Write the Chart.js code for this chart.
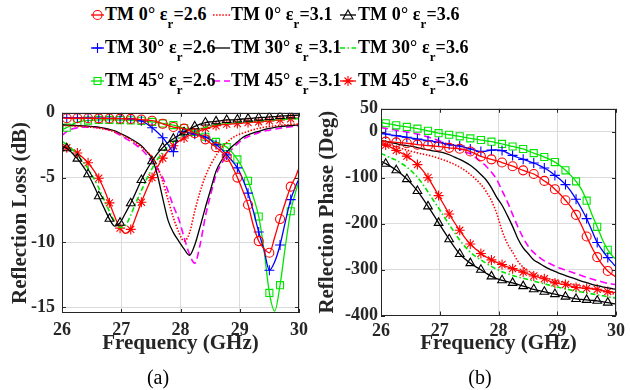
<!DOCTYPE html>
<html>
<head>
<meta charset="utf-8">
<script src="https://cdn.jsdelivr.net/npm/chart.js@4.4.0/dist/chart.umd.min.js"></script>
<style>
  html, body { margin: 0; padding: 0; background: #fff; }
  #wrap { position: relative; width: 630px; height: 390px; overflow: hidden; font-family: 'Liberation Serif', 'Times New Roman', serif; }
  canvas { position: absolute; }
  #lossChart { left: 0; top: 95px; }
  #phaseChart { left: 315px; top: 95px; }
  #legendMarks { position: absolute; left: 0; top: 0; }
  .lg { position: absolute; font-size: 18px; font-weight: bold; line-height: 22px; letter-spacing: 0.1px; white-space: nowrap; color: #000; }
  .lg sub { font-size: 13px; vertical-align: baseline; position: relative; top: 8px; }
  .cap { position: absolute; width: 60px; text-align: center; font-size: 20px; line-height: 24px; color: #000; }
</style>
</head>
<body>
<div id="wrap">
  <svg id="legendMarks" width="630" height="95"></svg>
  <canvas id="lossChart" width="315" height="295"></canvas>
  <canvas id="phaseChart" width="315" height="295"></canvas>
  <div class="cap" style="left:128px; top:365px">(a)</div>
  <div class="cap" style="left:450px; top:365px">(b)</div>
</div>
<script>
'use strict'

// frequency samples (GHz)
const freq = [26.00, 26.08, 26.17, 26.26, 26.35, 26.44, 26.53, 26.62, 26.71, 26.80, 26.89, 26.98, 27.07, 27.16, 27.25, 27.34, 27.43, 27.52, 27.61, 27.70, 27.79, 27.88, 27.97, 28.06, 28.15, 28.24, 28.33, 28.42, 28.51, 28.60, 28.69, 28.78, 28.87, 28.96, 29.05, 29.14, 29.23, 29.32, 29.41, 29.50, 29.59, 29.68, 29.77, 29.86, 29.95, 30.00];
const freqTicks = [26, 27, 28, 29, 30];
const lossTicks = [-15, -10, -5, 0];
const phaseTicks = [-400, -300, -200, -100, 0, 50];

const angles = ['0', '30', '45'];
const permittivity = ['2.6', '3.1', '3.6'];

// reflection loss (dB)
const loss0_26 = [-0.40, -0.42, -0.42, -0.42, -0.42, -0.42, -0.42, -0.43, -0.43, -0.44, -0.44, -0.45, -0.46, -0.47, -0.49, -0.52, -0.56, -0.61, -0.70, -0.85, -0.98, -1.10, -1.16, -1.22, -1.38, -1.58, -1.80, -2.05, -2.35, -2.65, -3.00, -3.40, -4.10, -5.00, -6.00, -7.10, -8.70, -9.90, -10.50, -10.80, -9.60, -8.20, -6.90, -5.70, -4.85, -4.25];
const loss0_31 = [-1.00, -1.00, -1.02, -1.04, -1.06, -1.09, -1.13, -1.18, -1.25, -1.35, -1.48, -1.65, -1.85, -2.08, -2.35, -2.65, -3.00, -3.40, -4.20, -5.30, -6.70, -8.10, -9.20, -9.90, -9.30, -7.60, -6.10, -4.90, -4.00, -3.30, -2.72, -2.30, -1.95, -1.72, -1.57, -1.44, -1.30, -1.20, -1.12, -1.06, -1.01, -0.97, -0.93, -0.90, -0.88, -0.87];
const loss0_36 = [-2.60, -2.74, -3.10, -3.54, -4.10, -4.74, -5.55, -6.44, -7.35, -8.18, -8.75, -8.48, -7.75, -6.98, -6.10, -5.19, -4.40, -3.74, -3.15, -2.69, -2.30, -2.00, -1.75, -1.50, -1.25, -1.05, -0.88, -0.75, -0.70, -0.66, -0.60, -0.55, -0.54, -0.52, -0.48, -0.45, -0.41, -0.37, -0.35, -0.32, -0.29, -0.25, -0.23, -0.20, -0.19, -0.18];
const loss30_26 = [-0.35, -0.38, -0.40, -0.40, -0.40, -0.41, -0.41, -0.42, -0.42, -0.43, -0.43, -0.44, -0.45, -0.47, -0.52, -0.62, -0.85, -1.15, -1.50, -1.92, -2.45, -3.00, -1.45, -1.50, -1.55, -1.65, -1.75, -1.88, -2.10, -2.45, -2.80, -3.25, -3.70, -4.25, -5.10, -6.20, -7.60, -9.20, -10.60, -12.15, -11.50, -10.20, -8.40, -6.70, -5.60, -5.10];
const loss30_31 = [-0.94, -0.95, -0.97, -0.99, -1.01, -1.03, -1.06, -1.10, -1.18, -1.28, -1.40, -1.58, -1.78, -2.00, -2.25, -2.55, -3.00, -3.55, -4.80, -6.60, -8.30, -9.25, -9.90, -10.50, -11.00, -10.20, -8.80, -7.30, -5.90, -4.50, -3.70, -3.05, -2.60, -2.25, -1.90, -1.70, -1.55, -1.43, -1.30, -1.20, -1.13, -1.07, -1.02, -0.98, -0.95, -0.94];
const loss30_36 = [-2.20, -2.45, -2.80, -3.25, -3.75, -4.30, -5.00, -5.80, -6.70, -7.60, -8.40, -8.85, -8.70, -7.90, -6.90, -6.00, -5.10, -4.30, -3.60, -3.05, -2.60, -2.25, -1.95, -1.72, -1.55, -1.40, -1.25, -1.12, -1.00, -0.90, -0.84, -0.80, -0.77, -0.74, -0.71, -0.68, -0.65, -0.62, -0.60, -0.57, -0.54, -0.52, -0.50, -0.48, -0.46, -0.45];
const loss45_26 = [-1.30, -1.15, -0.90, -0.72, -0.64, -0.60, -0.57, -0.55, -0.55, -0.55, -0.55, -0.56, -0.57, -0.58, -0.60, -0.62, -0.66, -0.70, -0.76, -0.82, -0.88, -0.95, -1.06, -1.18, -1.32, -1.48, -1.65, -1.85, -2.05, -2.25, -2.45, -2.65, -3.05, -3.60, -4.30, -5.25, -6.50, -8.00, -10.60, -13.90, -15.30, -13.30, -10.30, -7.60, -6.00, -5.30];
const loss45_31 = [-1.75, -1.45, -1.25, -1.16, -1.12, -1.11, -1.12, -1.16, -1.23, -1.33, -1.50, -1.72, -1.97, -2.22, -2.50, -2.82, -3.25, -3.75, -4.30, -5.00, -6.05, -7.20, -8.20, -9.60, -10.90, -11.60, -10.20, -8.00, -6.30, -4.80, -3.95, -3.30, -2.80, -2.40, -2.05, -1.85, -1.68, -1.53, -1.42, -1.34, -1.26, -1.19, -1.13, -1.08, -1.03, -1.00];
const loss45_36 = [-2.55, -2.70, -2.85, -3.10, -3.45, -3.86, -4.40, -5.05, -5.90, -6.95, -8.00, -8.90, -9.30, -9.00, -8.00, -6.90, -5.90, -5.00, -4.20, -3.50, -2.95, -2.54, -2.20, -1.95, -1.75, -1.58, -1.38, -1.20, -1.10, -1.00, -0.93, -0.87, -0.85, -0.83, -0.79, -0.75, -0.72, -0.70, -0.66, -0.62, -0.58, -0.55, -0.50, -0.46, -0.42, -0.40];

// reflection phase (deg)
const phase0_26 = [-19, -21.5, -22.2, -23, -24, -25, -26.5, -28, -29, -30, -31, -32, -33.5, -35, -36, -37, -39.5, -43, -48, -53.6, -57, -60, -63.5, -67, -71, -75, -79.5, -84, -88, -92, -99, -107, -115, -125, -136, -149, -163, -181, -203, -228, -252, -273, -290, -303, -312, -316];
const phase0_31 = [-23, -26, -29.5, -33, -36.5, -40, -43, -46, -48.5, -51, -54, -57.5, -61.5, -66, -71, -77, -84, -93, -103, -115, -130, -150, -178, -215, -243, -262, -282, -295, -303, -309, -313, -317, -320.5, -323.5, -326, -328.5, -331, -333, -336, -339, -341, -344, -347, -350, -352.5, -354];
const phase0_36 = [-64, -69.5, -76, -83.7, -92.5, -103, -115, -128.8, -145, -162.4, -180, -198.3, -216.5, -234, -251, -266, -277, -286, -293.5, -300.4, -308, -314.8, -319.5, -323.4, -326, -329, -332.5, -336, -339.5, -343, -346, -348.4, -351, -353.4, -356, -359, -361.5, -364, -365, -366, -367, -368, -370, -372, -374, -375];
const phase30_26 = [-2, -5, -7, -8.6, -10.3, -12, -14, -16, -17.7, -19.4, -21, -23, -25.5, -28, -29.5, -31, -34, -37.5, -40.5, -43, -42, -40, -39.5, -41, -46, -51.5, -56, -60, -64, -68, -73, -79, -86, -95, -104, -115, -129, -147, -167, -189, -215, -241, -259, -274, -287, -294];
const phase30_31 = [-19, -21, -23.5, -26, -28.5, -30, -32, -34.5, -37, -39.5, -41.5, -43.5, -46, -50, -55, -60, -66, -73, -82, -93, -105, -122, -143, -160, -182, -206, -233, -253, -266, -279, -286, -293, -299, -304, -309, -313, -317, -321, -325, -328.5, -332, -335, -337.5, -340, -342, -343];
const phase30_36 = [-47, -52, -57, -62, -69, -77, -87, -99, -114, -131, -149, -166, -184, -202, -219, -236, -250, -262, -271.5, -279, -286.5, -293, -299.5, -305, -309, -313, -316, -319, -322, -325, -328, -331, -334, -337, -339.5, -342, -344.5, -347, -349, -351, -353, -355, -357, -359, -361, -362];
const phase45_26 = [21, 18.5, 16.5, 14, 12.3, 10.5, 8.7, 6.8, 4.5, 2, -0.5, -3, -4.8, -6.5, -8.3, -10, -12.2, -14.4, -16.2, -18, -19.7, -21.5, -24, -26.5, -29, -32, -34.5, -37.5, -42, -46.5, -50.5, -55, -60, -66, -74, -84, -95, -108, -125, -150, -180, -207, -235, -257, -272, -278];
const phase45_31 = [9, 7.5, 5.5, 3.5, 1.5, -0.5, -2.5, -5, -8, -11.5, -15, -19, -23.5, -28, -33, -38, -44, -48, -56, -65, -75, -88, -104, -128, -152, -180, -207, -231, -250, -263, -273, -281, -287, -292, -297, -301, -305, -309, -313, -317, -320.5, -324, -327, -330, -332, -333];
const phase45_36 = [-25, -29, -34, -40.5, -46.5, -53, -61.5, -71.5, -84, -100, -119, -139, -159, -179, -197.5, -214.5, -231, -244.5, -255, -265, -272.5, -279, -284.5, -289, -294, -298, -302, -305.5, -310, -314, -317, -320, -325, -329, -331, -332.5, -336, -339, -340, -341, -342, -343, -345.5, -348, -349.5, -350];

const lossSeries = [
	[loss0_26, loss0_31, loss0_36],
	[loss30_26, loss30_31, loss30_36],
	[loss45_26, loss45_31, loss45_36],
];
const phaseSeries = [
	[phase0_26, phase0_31, phase0_36],
	[phase30_26, phase30_31, phase30_36],
	[phase45_26, phase45_31, phase45_36],
];

const ink = '#262626';
const gridColor = '#dcdcdc';
const green = '#00e600';
const serif = "'Liberation Serif', 'Times New Roman', serif";

// line style per [angle][permittivity]
const styles = [
	[
		{color: '#ff0000', marker: 'circle', size: 4.5},
		{color: '#ff0000', dash: [1.5, 1.6]},
		{color: '#000000', marker: 'triangle', size: 5},
	],
	[
		{color: '#0000ff', marker: 'cross', size: 5},
		{color: '#000000'},
		{color: green, dash: [5, 2.5, 1.5, 2.5]},
	],
	[
		{color: green, marker: 'rect', size: 5},
		{color: '#ff00ff', dash: [7, 4]},
		{color: '#ff0000', marker: 'star', size: 5},
	],
];

// markers sit on every second sample
const isMarker = i => i % 2 === 1 && i < freq.length - 1;

function makeDatasets(series) {
	const sets = [];
	styles.forEach((row, a) => {
		row.forEach((st, e) => {
			sets.push({
				label: 'TM ' + angles[a] + '° εr=' + permittivity[e],
				data: freq.map((f, i) => ({x: f, y: series[a][e][i]})),
				borderColor: st.color,
				borderWidth: st.dash ? 1.6 : 1.3,
				borderDash: st.dash || [],
				cubicInterpolationMode: 'monotone',
				pointStyle: st.marker || 'circle',
				pointRadius: ctx => (st.marker && isMarker(ctx.dataIndex) ? st.size : 0),
				pointHoverRadius: 0,
				pointBorderColor: st.color,
				pointBackgroundColor: 'rgba(0,0,0,0)',
				pointBorderWidth: 1.1,
			});
		});
	});
	return sets;
}

// box round the plot area with inward tick marks
const boxPlugin = {
	id: 'box',
	afterDraw(chart) {
		const {ctx, chartArea: a, scales} = chart;
		ctx.save();
		ctx.strokeStyle = ink;
		ctx.lineWidth = 1;
		ctx.strokeRect(Math.round(a.left) + 0.5, Math.round(a.top) + 0.5, Math.round(a.right - a.left) - 1, Math.round(a.bottom - a.top) - 1);
		ctx.beginPath();
		scales.x.ticks.forEach(t => {
			const px = Math.round(scales.x.getPixelForValue(t.value)) + 0.5;
			ctx.moveTo(px, a.bottom); ctx.lineTo(px, a.bottom - 4);
			ctx.moveTo(px, a.top); ctx.lineTo(px, a.top + 4);
		});
		scales.y.ticks.forEach(t => {
			const py = Math.round(scales.y.getPixelForValue(t.value)) + 0.5;
			ctx.moveTo(a.left, py); ctx.lineTo(a.left + 4, py);
			ctx.moveTo(a.right, py); ctx.lineTo(a.right - 4, py);
		});
		ctx.stroke();
		ctx.restore();
	},
};

function makeOptions(o) {
	return {
		responsive: false,
		animation: false,
		devicePixelRatio: 1,
		events: [],
		layout: {padding: {top: o.padTop, right: o.padRight, left: 0, bottom: 0}},
		plugins: {legend: {display: false}, tooltip: {enabled: false}},
		scales: {
			x: {
				type: 'linear',
				min: 26,
				max: 30,
				afterBuildTicks: s => { s.ticks = freqTicks.map(v => ({value: v})); },
				afterFit: s => { s.height = o.xHeight; },
				ticks: {font: {family: serif, size: 18, weight: 'bold'}, color: ink, padding: o.xTickPad, callback: v => String(v)},
				grid: {color: gridColor, drawTicks: false},
				border: {display: false},
				title: {display: true, text: 'Frequency (GHz)', color: ink, font: {family: serif, size: 21, weight: 'bold'}, padding: {top: 0, bottom: 34}},
			},
			y: {
				type: 'linear',
				min: o.yMin,
				max: o.yMax,
				afterBuildTicks: s => { s.ticks = o.yTicks.map(v => ({value: v})); },
				afterFit: s => { s.width = o.yWidth; },
				ticks: {font: {family: serif, size: 18, weight: 'bold'}, color: ink, padding: o.yTickPad, callback: v => String(v)},
				grid: {color: gridColor, drawTicks: false},
				border: {display: false},
				title: {display: true, text: o.yTitle, color: ink, font: {family: serif, size: 21, weight: 'bold'}, padding: {top: o.yTitlePad, bottom: 0}},
			},
		},
	};
}

new Chart(document.getElementById('lossChart'), {
	type: 'line',
	data: {datasets: makeDatasets(lossSeries)},
	options: makeOptions({
		yMin: -15.45, yMax: 0, yTicks: lossTicks, yTitle: 'Reflection Loss (dB)',
		padTop: 11.7, padRight: 12, xHeight: 77, yWidth: 62, xTickPad: 7, yTickPad: 7, yTitlePad: 8,
	}),
	plugins: [boxPlugin],
});

new Chart(document.getElementById('phaseChart'), {
	type: 'line',
	data: {datasets: makeDatasets(phaseSeries)},
	options: makeOptions({
		yMin: -400, yMax: 50, yTicks: phaseTicks, yTitle: 'Reflection Phase (Deg)',
		padTop: 11, padRight: 9, xHeight: 74.5, yWidth: 66, xTickPad: 5, yTickPad: 3, yTitlePad: 0,
	}),
	plugins: [boxPlugin],
});

// legend: 3 x 3 grid, rows = incidence angle, columns = permittivity
const legendText = [105, 231, 358];
const legendLine = [[91, 104], [213, 230], [340, 356]];
const legendBase = [20, 53, 86];
const svgNS = 'http://www.w3.org/2000/svg';
const svg = document.getElementById('legendMarks');
const wrap = document.getElementById('wrap');

function svgEl(tag, attrs) {
	const el = document.createElementNS(svgNS, tag);
	for (const k in attrs) el.setAttribute(k, attrs[k]);
	svg.appendChild(el);
	return el;
}

function drawMark(st, cx, cy) {
	const c = st.color;
	const s = {stroke: c, 'stroke-width': 1.1, fill: 'none'};
	if (st.marker === 'circle') svgEl('circle', Object.assign({cx: cx, cy: cy, r: 4.5}, s));
	if (st.marker === 'triangle') svgEl('polygon', Object.assign({points: `${cx},${cy - 5} ${cx - 5},${cy + 4} ${cx + 5},${cy + 4}`}, s));
	if (st.marker === 'rect') svgEl('rect', Object.assign({x: cx - 3.5, y: cy - 3.5, width: 7, height: 7}, s));
	if (st.marker === 'cross') svgEl('path', Object.assign({d: `M${cx - 5},${cy}H${cx + 5}M${cx},${cy - 5}V${cy + 5}`}, s));
	if (st.marker === 'star') svgEl('path', Object.assign({d: `M${cx - 5},${cy}H${cx + 5}M${cx},${cy - 5}V${cy + 5}M${cx - 3.5},${cy - 3.5}L${cx + 3.5},${cy + 3.5}M${cx - 3.5},${cy + 3.5}L${cx + 3.5},${cy - 3.5}`}, s));
}

styles.forEach((row, a) => {
	row.forEach((st, e) => {
		const base = legendBase[a];
		const my = base - 5;
		const [x0, x1] = legendLine[e];
		svgEl('line', {x1: x0, y1: my, x2: x1, y2: my, stroke: st.color, 'stroke-width': st.dash ? 1.6 : 1.3, 'stroke-dasharray': st.dash ? st.dash.join(' ') : 'none'});
		if (st.marker) drawMark(st, (x0 + x1) / 2, my);

		const div = document.createElement('div');
		div.className = 'lg';
		div.style.left = legendText[e] + 'px';
		div.style.top = (base - 17) + 'px';
		div.innerHTML = 'TM ' + angles[a] + '° ε<sub>r</sub>=' + permittivity[e];
		wrap.appendChild(div);
	});
});
</script>
</body>
</html>
